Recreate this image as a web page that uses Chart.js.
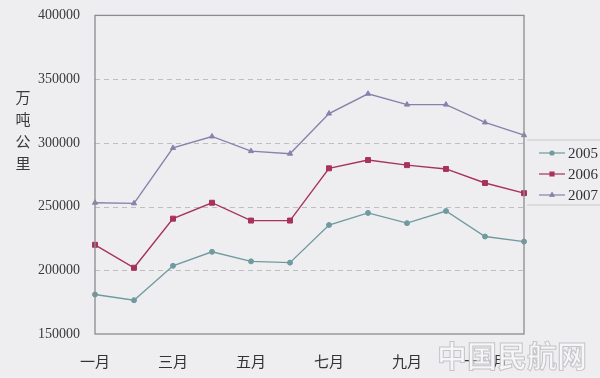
<!DOCTYPE html>
<html>
<head>
<meta charset="utf-8">
<script src="https://cdn.jsdelivr.net/npm/chart.js@4"></script>
<style>
  html, body { margin: 0; padding: 0; background: #eeedf0; }
  #wrap { width: 600px; height: 378px; }
</style>
</head>
<body>
<div id="wrap"><canvas id="freight_chart"></canvas></div>
<script>
// month labels (only odd months are shown on the axis)
const months = ["一月", "二月", "三月", "四月", "五月", "六月", "七月", "八月", "九月", "十月", "十一月", "十二月"];
const yTicks = [150000, 200000, 250000, 300000, 350000, 400000];

// values per year
const y2005 = [181000, 176500, 203500, 214500, 207000, 206000, 235500, 245000, 237000, 246500, 226500, 222500];
const y2006 = [220000, 202000, 240500, 253000, 239000, 239000, 280000, 286500, 282500, 279500, 268500, 260500];
const y2007 = [253000, 252500, 296000, 305000, 293500, 291500, 323000, 338500, 330000, 330000, 316000, 306000];

const seriesNames = ["2005", "2006", "2007"];
const colors = ["#6f9ba0", "#a8325c", "#8a80ac"];
const markers = ["circle", "rect", "triangle"];
const markerSize = [2.5, 3.5, 3];

document.addEventListener("DOMContentLoaded", () => {
    drawChart();
});

// draws dashed grid, box around plot, stacked y title, legend and watermark
const extras = {
    id: "extras",
    beforeDatasetsDraw(chart) {
        const ctx = chart.ctx;
        const a = chart.chartArea;
        const ys = chart.scales.y;
        ctx.save();
        ctx.strokeStyle = "#bdbdc2";
        ctx.lineWidth = 1;
        ctx.setLineDash([5, 4]);
        yTicks.slice(1, -1).forEach(v => {
            const y = Math.round(ys.getPixelForValue(v)) + 0.5;
            ctx.beginPath();
            ctx.moveTo(a.left, y);
            ctx.lineTo(a.right, y);
            ctx.stroke();
        });
        ctx.restore();
    },
    afterDraw(chart) {
        const ctx = chart.ctx;
        const a = chart.chartArea;
        ctx.save();

        // plot frame
        ctx.strokeStyle = "#8c8c90";
        ctx.lineWidth = 1.3;
        ctx.strokeRect(a.left, a.top, a.right - a.left, a.bottom - a.top);

        // vertical axis title
        ctx.fillStyle = "#3a3a3a";
        ctx.font = "15px 'Noto Sans CJK SC'";
        ctx.textAlign = "center";
        ctx.textBaseline = "middle";
        ["万", "吨", "公", "里"].forEach((ch, i) => ctx.fillText(ch, 23, 97 + i * 22));

        // legend
        ctx.strokeStyle = "#c8c8cc";
        ctx.lineWidth = 1;
        ctx.beginPath();
        ctx.moveTo(527, 140); ctx.lineTo(600, 140);
        ctx.moveTo(527, 205); ctx.lineTo(600, 205);
        ctx.stroke();
        chart.data.datasets.forEach((ds, i) => {
            const y = 153 + i * 21;
            ctx.strokeStyle = ds.borderColor;
            ctx.lineWidth = 1.2;
            ctx.beginPath();
            ctx.moveTo(539, y); ctx.lineTo(565, y);
            ctx.stroke();
            ctx.fillStyle = ds.borderColor;
            Chart.helpers.drawPoint(ctx, { pointStyle: markers[i], radius: markerSize[i] * 0.8, rotation: 0, borderWidth: 1 }, 552, y);
            ctx.fill();
            ctx.fillStyle = "#333";
            ctx.font = "15px 'Liberation Serif'";
            ctx.textAlign = "left";
            ctx.fillText(ds.label, 568, y + 1);
        });

        // watermark
        ctx.font = "bold 30px 'Noto Sans CJK SC'";
        ctx.textAlign = "left";
        ctx.lineWidth = 1;
        ctx.strokeStyle = "#c4c4c8";
        ctx.fillStyle = "#f6f6f8";
        ctx.fillText("中国民航网", 437, 356);
        ctx.strokeText("中国民航网", 437, 356);
        ctx.restore();
    }
};

function drawChart()
{
    const chart = document.getElementById("freight_chart");
    const values = [y2005, y2006, y2007];

    new Chart(chart, {
        type: "line",
        data: {
            labels: months,
            datasets: values.map((v, i) => ({
                label: seriesNames[i],
                data: v,
                borderColor: colors[i],
                backgroundColor: colors[i],
                borderWidth: 1.4,
                pointStyle: markers[i],
                pointRadius: markerSize[i],
                pointBorderWidth: 1,
                tension: 0
            }))
        },
        options: {
            responsive: true,
            maintainAspectRatio: false,
            animation: false,
            layout: { padding: { top: 11, right: 76, left: 0, bottom: 0 } },
            plugins: {
                legend: { display: false },
                tooltip: { enabled: false }
            },
            scales: {
                x: {
                    offset: false,
                    grid: { display: false },
                    border: { display: false },
                    ticks: {
                        autoSkip: false,
                        maxRotation: 0,
                        padding: 10,
                        color: "#333",
                        font: { family: "'Noto Sans CJK SC'", size: 15 },
                        callback: (val, idx) => idx % 2 === 0 ? months[idx] : ""
                    },
                    afterFit: s => { s.height = 44; }
                },
                y: {
                    min: yTicks[0],
                    max: yTicks[yTicks.length - 1],
                    afterBuildTicks: s => { s.ticks = yTicks.map(v => ({ value: v })); },
                    grid: { display: false },
                    border: { display: false },
                    ticks: {
                        padding: 7,
                        color: "#3a3a3a",
                        font: { family: "'Liberation Serif'", size: 14 },
                        callback: v => String(v)
                    },
                    afterFit: s => { s.width = 95; }
                }
            }
        },
        plugins: [extras]
    });
}
</script>
</body>
</html>
